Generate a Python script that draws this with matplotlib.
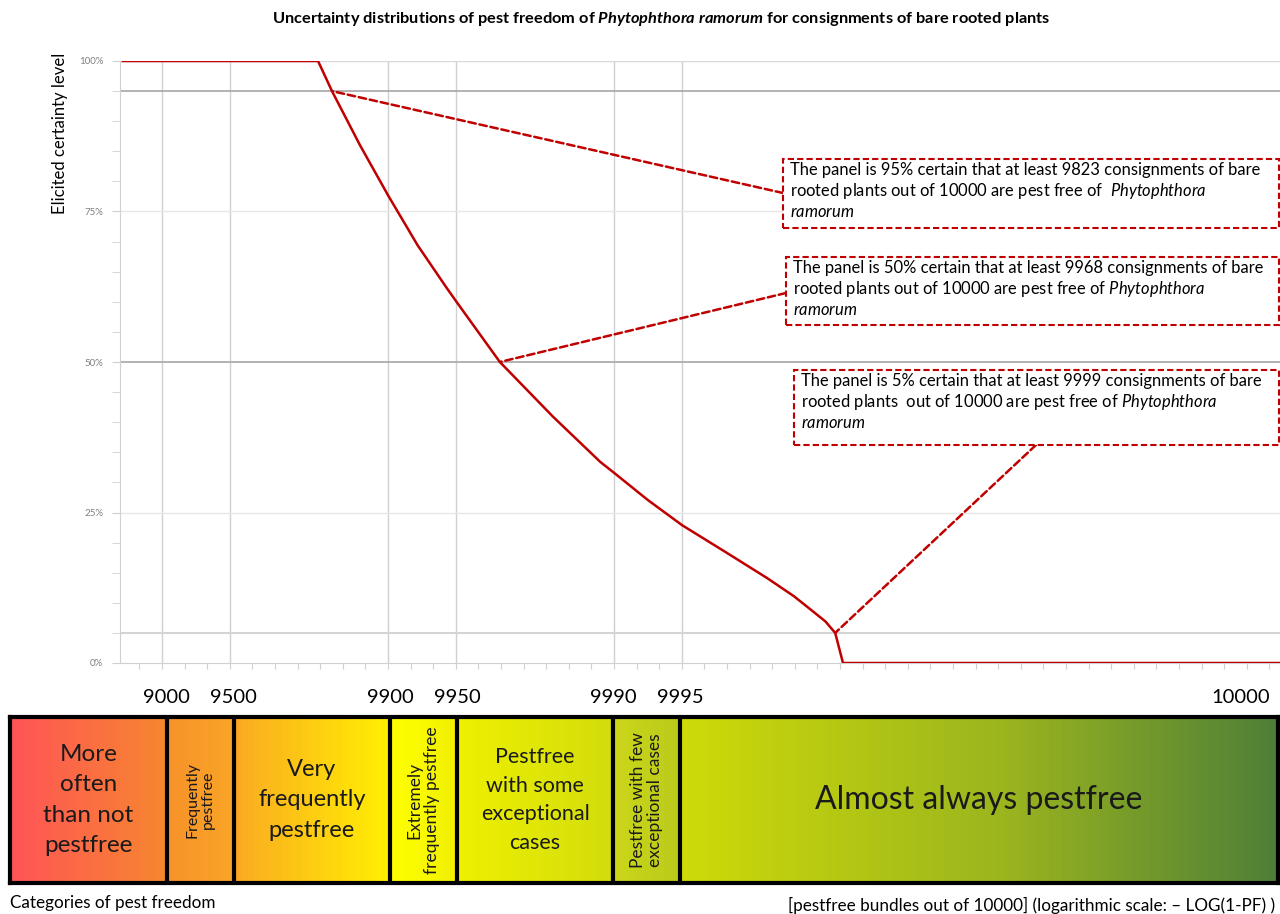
import numpy as np
import matplotlib
matplotlib.use("Agg")
import matplotlib.pyplot as plt
from matplotlib.colors import LinearSegmentedColormap
from matplotlib.patches import Rectangle
from matplotlib.ticker import FixedLocator, NullFormatter

plt.rcParams['font.family'] = ['Lato', 'DejaVu Sans']
plt.rcParams['mathtext.fontset'] = 'custom'
plt.rcParams['mathtext.rm'] = 'Lato'
plt.rcParams['mathtext.it'] = 'Lato:italic'
plt.rcParams['mathtext.bf'] = 'Lato:bold'
plt.rcParams['mathtext.bfit'] = 'Lato:bold:italic'

# elicited curve: pest free consignments out of 10000 vs certainty (%)
pestfree = [8510, 9796, 9823, 9867, 9900, 9926, 9945, 9950, 9968, 9981.4,
            9988.5, 9990, 9992.9, 9995, 9996.8, 9997.9, 9998.4, 9998.68,
            9998.84, 9998.95, 9999.03, 9999.9999]
certainty = [100, 100, 95, 86.0, 77.7, 69.4, 62.3, 60.1, 50, 40.9,
             33.4, 31.6, 27.1, 22.9, 18.4, 14.1, 11.1, 8.6,
             6.9, 5, 0, 0]

# category boundaries and labels
bounds = [9000, 9500, 9900, 9950, 9990, 9995]
bound_labels = ['9000', '9500', '9900', '9950', '9990', '9995']
categories = ['More\noften\nthan not\npestfree', 'Frequently\npestfree',
              'Very\nfrequently\npestfree', 'Extremely\nfrequently pestfree',
              'Pestfree\nwith some\nexceptional\ncases',
              'Pestfree with few\nexceptional cases', 'Almost always pestfree']

# quantiles highlighted in the text boxes
q_pestfree = [9823, 9968, 9998.95]
q_certainty = [95, 50, 5]
q_texts = [
    "The panel is 95% certain that at least 9823 consignments of bare\n"
    "rooted plants out of 10000 are pest free of  $\\mathit{Phytophthora}$\n"
    "$\\mathit{ramorum}$",
    "The panel is 50% certain that at least 9968 consignments of bare\n"
    "rooted plants out of 10000 are pest free of $\\mathit{Phytophthora}$\n"
    "$\\mathit{ramorum}$",
    "The panel is 5% certain that at least 9999 consignments of bare\n"
    "rooted plants  out of 10000 are pest free of $\\mathit{Phytophthora}$\n"
    "$\\mathit{ramorum}$",
]


def fwd(pf):
    pf = np.asarray(pf, dtype=float)
    return -np.log10(np.clip(1 - pf / 10000.0, 1e-12, None))


def inv(u):
    u = np.asarray(u, dtype=float)
    return 10000.0 * (1 - 10 ** (-u))


W, H = 1280, 914
fig = plt.figure(figsize=(W / 100, H / 100), dpi=100)


def fx(px):
    return px / W


def fy(py):
    return 1 - py / H


RED = '#C00000'

# ---- main chart ----
ax = fig.add_axes([fx(120), fy(663), fx(1280) - fx(120), fy(61) - fy(663)])
ax.set_xscale('function', functions=(fwd, inv))
ax.set_xlim(inv(0.814), inv(5.947))
ax.set_ylim(0, 100)

for b in bounds:
    ax.axvline(b, color='#d0d0d0', lw=1, zorder=1)
for yv, c, lw in [(100, '#d9d9d9', 1), (95, '#a6a6a6', 1.2), (75, '#e6e6e6', 1),
                  (50, '#a6a6a6', 1.2), (25, '#e6e6e6', 1), (5, '#d4d4d4', 1.5)]:
    ax.axhline(yv, color=c, lw=lw, zorder=1)

ax.plot(pestfree, certainty, color=RED, lw=1.8, zorder=3, solid_joinstyle='round')

for s in ['top', 'right']:
    ax.spines[s].set_visible(False)
for s in ['left', 'bottom']:
    ax.spines[s].set_color('#d0d0d0')

ax.set_yticks([0, 25, 50, 75, 100])
ax.set_yticklabels(['0%', '25%', '50%', '75%', '100%'], fontsize=7, color='#808080')
ax.yaxis.set_minor_locator(FixedLocator(np.arange(0, 101, 5)))
ax.tick_params(axis='y', which='both', length=6, color='#d0d0d0', pad=6)
ax.xaxis.set_major_locator(FixedLocator(inv(np.arange(0.9, 6.0, 0.1))))
ax.xaxis.set_major_formatter(NullFormatter())
ax.xaxis.set_minor_locator(FixedLocator([]))
ax.tick_params(axis='x', which='both', length=4, color='#d0d0d0')

fig.text(fx(60), fy(133), 'Elicited certainty level', rotation=90,
         ha='center', va='center', fontsize=12)

fig.text(fx(661), fy(19),
         "Uncertainty distributions of pest freedom of $\\mathbfit{Phytophthora\\ ramorum}$"
         " for consignments of bare rooted plants",
         ha='center', va='center', fontsize=11.8, fontweight='bold')

# annotation boxes and leader lines
box_rects = [(783, 159, 1279, 228), (786, 257, 1279, 325), (794, 370, 1279, 445)]
line_ends = [(783, 193), (786, 293), (1036, 445)]
for (x0, y0, x1, y1), (ex, ey), qp, qc, t in zip(box_rects, line_ends,
                                                 q_pestfree, q_certainty, q_texts):
    ax.annotate('', xy=(qp, qc), xycoords='data',
                xytext=(fx(ex), fy(ey)), textcoords='figure fraction',
                arrowprops=dict(arrowstyle='-', linestyle=(0, (3, 1.5)), color=RED,
                                lw=1.8, shrinkA=0, shrinkB=0), zorder=4)
    fig.add_artist(Rectangle((fx(x0), fy(y1)), fx(x1) - fx(x0), fy(y0) - fy(y1),
                             transform=fig.transFigure, facecolor='white',
                             edgecolor=RED, ls=(0, (3, 1.5)), lw=1.5, zorder=5))
    fig.text(fx(x0 + 7), fy(y0 + 3), t, ha='left', va='top', fontsize=11.9,
             linespacing=1.22, zorder=6)

# ---- category band ----
bx = fig.add_axes([fx(10), fy(883), fx(1278) - fx(10), fy(717) - fy(883)])
bx.set_xscale('function', functions=(fwd, inv))
u0, u1 = 0.2975, 5.98
bx.set_xlim(inv(u0), inv(u1))
bx.set_ylim(0, 1)

edges_u = [u0] + list(fwd(bounds)) + [u1]
frac = [(e - u0) / (u1 - u0) for e in edges_u]
seg_colors = [('#FF5456', '#F6872E'), ('#F7922A', '#F9A526'), ('#FAAA22', '#FFF000'),
              ('#FFFF00', '#F0F000'), ('#EEF000', '#D2DC0C'), ('#CBD61A', '#BACA1B'),
              ('#CEDA08', '#4E7F37')]
nodes = []
eps = 1e-4
for i, (c0, c1) in enumerate(seg_colors):
    a = frac[i] + (eps if i > 0 else 0)
    b = frac[i + 1] - (eps if i < len(seg_colors) - 1 else 0)
    nodes.append((a, c0))
    if i == len(seg_colors) - 1:
        nodes.append((a + 0.55 * (b - a), '#9AB41E'))
    nodes.append((b, c1))
cmap = LinearSegmentedColormap.from_list('pf', nodes)

ug = np.linspace(u0, u1, 800)
xe = inv(ug)
C = ((ug[:-1] + ug[1:]) / 2 - u0) / (u1 - u0)
bx.pcolormesh(xe, [0, 1], C[np.newaxis, :], cmap=cmap, vmin=0, vmax=1,
              shading='flat')

for b in bounds:
    bx.axvline(b, color='black', lw=3)
for s in bx.spines.values():
    s.set_color('black')
    s.set_linewidth(3)
bx.set_xticks([])
bx.set_yticks([])

text_specs = [(17.5, 0), (11.5, 90), (17, 0), (12.5, 90), (15.5, 0), (12.5, 90), (23, 0)]
for i, (cat, (fs, rot)) in enumerate(zip(categories, text_specs)):
    um = (edges_u[i] + edges_u[i + 1]) / 2
    bx.text(inv(um), 0.5, cat, ha='center', va='center', fontsize=fs,
            rotation=rot, linespacing=1.55 if rot == 0 else 1.1, color='#1a1a1a')

for b, lab in zip(bounds, bound_labels):
    bx.text(b, 1.12, lab, ha='center', va='center', fontsize=14.5,
            transform=bx.get_xaxis_transform())
bx.text(0.9935, 1.12, '10000', ha='right', va='center', fontsize=14.5,
        transform=bx.transAxes)

fig.text(fx(10), fy(903), 'Categories of pest freedom', ha='left', va='center',
         fontsize=12.3)
fig.text(fx(1275), fy(905),
         '[pestfree bundles out of 10000] (logarithmic scale: \u2013 LOG(1-PF) )',
         ha='right', va='center', fontsize=12.3)

fig.savefig('out.png', dpi=100)
